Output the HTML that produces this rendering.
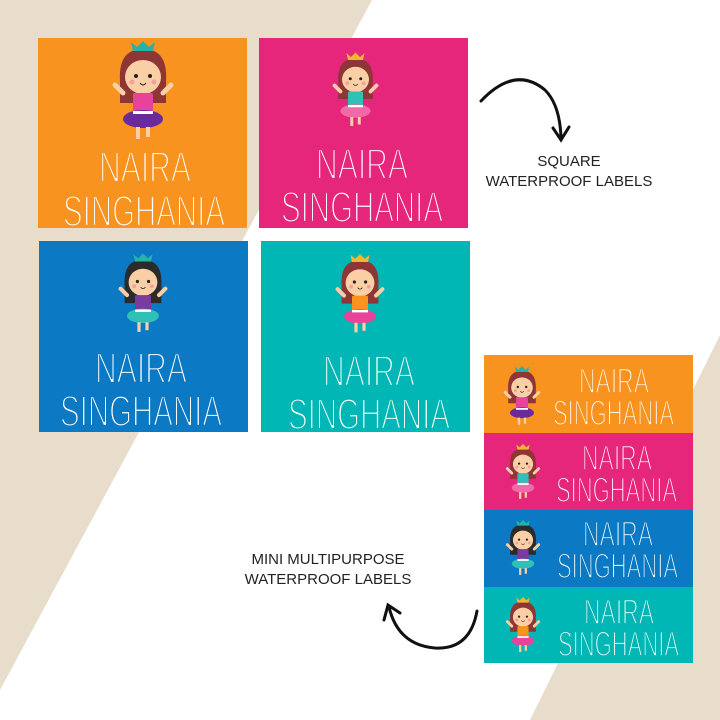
<!DOCTYPE html>
<html><head><meta charset="utf-8"><style>
html,body{margin:0;padding:0}
body{width:720px;height:720px;overflow:hidden;background:#e8dccb;position:relative;font-family:"Liberation Sans",sans-serif}
svg{position:absolute;left:0;top:0}
</style></head><body>
<svg width="720" height="720" viewBox="0 0 720 720">
<defs>
<symbol id="girl" viewBox="0 0 100 100">
  <path d="M27 40 Q25 8 50 8 Q75 8 73 40 L73 62 L27 62 Z" fill="var(--hair,#8e3535)"/>
  <path d="M40 10 L38 1 L44 6 L50 0 L56 6 L62 1 L60 10 Z" fill="var(--crown,#26b3a6)"/>
  <ellipse cx="50" cy="36" rx="18" ry="17" fill="#fbcfa6"/>
  <path d="M32 30 Q36 16 50 17 Q64 16 68 30 L68 22 Q60 10 50 11 Q40 10 32 22 Z" fill="var(--hair,#8e3535)"/>
  <circle cx="43" cy="35" r="2" fill="#222"/><circle cx="57" cy="35" r="2" fill="#222"/>
  <circle cx="39" cy="41" r="2.5" fill="#f4a0a0"/><circle cx="61" cy="41" r="2.5" fill="#f4a0a0"/>
  <path d="M47 42 Q50 46 53 42" stroke="#222" stroke-width="1" fill="none"/>
  <path d="M30 52 L22 44 M70 52 L78 44" stroke="#fbcfa6" stroke-width="5" stroke-linecap="round"/>
  <rect x="40" y="52" width="20" height="20" rx="2" fill="var(--top,#e8439a)"/>
  <ellipse cx="50" cy="78" rx="20" ry="9" fill="var(--skirt,#6a2a9c)"/>
  <rect x="40" y="70" width="20" height="3" fill="#fff"/>
  <path d="M45 86 L45 98 M55 86 L55 96" stroke="#fbcfa6" stroke-width="4"/>
</symbol>
</defs>
<polygon points="372,0 720,0 720,335 530,720 0,720 0,690" fill="#ffffff"/>

<rect x="38" y="38" width="209" height="190" fill="#f7931e"/>
<rect x="259" y="38" width="209" height="190" fill="#e6267a"/>
<rect x="39" y="241" width="209" height="191" fill="#0b79c3"/>
<rect x="261" y="241" width="209" height="191" fill="#00b7b5"/>

<use href="#girl" x="93" y="40" width="100" height="102" style="--hair:#8e3535;--crown:#26b3a6;--top:#e8439a;--skirt:#6a2a9c"/>
<use href="#girl" x="318" y="44" width="75" height="92" style="--hair:#8e3535;--crown:#f2b630;--top:#2fc0b8;--skirt:#f06aa8"/>
<use href="#girl" x="103" y="246" width="80" height="95" style="--hair:#2b2b2b;--crown:#26b3a6;--top:#7a3aa0;--skirt:#2fc0b8"/>
<use href="#girl" x="320" y="246" width="80" height="96" style="--hair:#8e3535;--crown:#f2b630;--top:#f7931e;--skirt:#e8439a"/>

<g fill="#fff" font-family="Liberation Sans,sans-serif" font-size="44" stroke-width="2.2">
<text x="99" y="182" textLength="92" lengthAdjust="spacingAndGlyphs" stroke="#f7931e">NAIRA</text>
<text x="63" y="226" textLength="162" lengthAdjust="spacingAndGlyphs" stroke="#f7931e">SINGHANIA</text>
<text x="316" y="179" textLength="92" lengthAdjust="spacingAndGlyphs" stroke="#e6267a">NAIRA</text>
<text x="281" y="222" textLength="162" lengthAdjust="spacingAndGlyphs" stroke="#e6267a">SINGHANIA</text>
<text x="95" y="383" textLength="92" lengthAdjust="spacingAndGlyphs" stroke="#0b79c3">NAIRA</text>
<text x="60" y="426" textLength="162" lengthAdjust="spacingAndGlyphs" stroke="#0b79c3">SINGHANIA</text>
<text x="323" y="386" textLength="92" lengthAdjust="spacingAndGlyphs" stroke="#00b7b5">NAIRA</text>
<text x="288" y="429" textLength="162" lengthAdjust="spacingAndGlyphs" stroke="#00b7b5">SINGHANIA</text>
</g>

<rect x="484" y="355" width="209" height="78" fill="#f7931e"/>
<rect x="484" y="433" width="209" height="77" fill="#e6267a"/>
<rect x="484" y="510" width="209" height="77" fill="#0b79c3"/>
<rect x="484" y="587" width="209" height="76" fill="#00b7b5"/>
<use href="#girl" x="492" y="360" width="60" height="72" style="--hair:#8e3535;--crown:#26b3a6;--top:#e8439a;--skirt:#6a2a9c"/>
<use href="#girl" x="495" y="438" width="56" height="68" style="--hair:#8e3535;--crown:#f2b630;--top:#2fc0b8;--skirt:#f06aa8"/>
<use href="#girl" x="495" y="514" width="56" height="68" style="--hair:#2b2b2b;--crown:#26b3a6;--top:#7a3aa0;--skirt:#2fc0b8"/>
<use href="#girl" x="495" y="591" width="56" height="68" style="--hair:#8e3535;--crown:#f2b630;--top:#f7931e;--skirt:#e8439a"/>
<g fill="#fff" font-family="Liberation Sans,sans-serif" font-size="35" stroke-width="1.8">
<text x="579" y="393" textLength="70" lengthAdjust="spacingAndGlyphs" stroke="#f7931e">NAIRA</text>
<text x="553" y="425" textLength="121" lengthAdjust="spacingAndGlyphs" stroke="#f7931e">SINGHANIA</text>
<text x="582" y="470" textLength="70" lengthAdjust="spacingAndGlyphs" stroke="#e6267a">NAIRA</text>
<text x="556" y="502" textLength="121" lengthAdjust="spacingAndGlyphs" stroke="#e6267a">SINGHANIA</text>
<text x="583" y="546" textLength="70" lengthAdjust="spacingAndGlyphs" stroke="#0b79c3">NAIRA</text>
<text x="557" y="578" textLength="121" lengthAdjust="spacingAndGlyphs" stroke="#0b79c3">SINGHANIA</text>
<text x="584" y="624" textLength="70" lengthAdjust="spacingAndGlyphs" stroke="#00b7b5">NAIRA</text>
<text x="558" y="656" textLength="121" lengthAdjust="spacingAndGlyphs" stroke="#00b7b5">SINGHANIA</text>
</g>

<g fill="none" stroke="#111" stroke-width="3" stroke-linecap="round">
<path d="M481 101 Q515 65 545 90 Q560 105 561 138"/>
<path d="M553 128 L561 140 L569 127"/>
<path d="M477 611 Q470 650 435 648 Q398 645 389 607"/>
<path d="M384 620 L388 605 L400 613"/>
</g>
<g fill="#222" font-family="Liberation Sans,sans-serif" font-size="15" text-anchor="middle">
<text x="569" y="166">SQUARE</text>
<text x="569" y="186">WATERPROOF LABELS</text>
<text x="328" y="564">MINI MULTIPURPOSE</text>
<text x="328" y="584">WATERPROOF LABELS</text>
</g>
</svg>
</body></html>
